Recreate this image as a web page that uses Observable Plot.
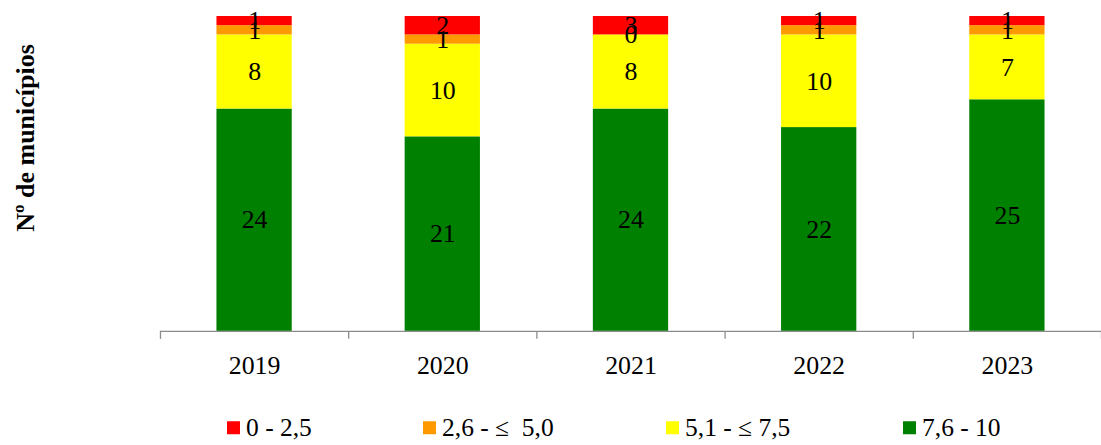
<!DOCTYPE html>
<html>
<head>
<meta charset="utf-8">
<script src="https://cdn.jsdelivr.net/npm/d3@7"></script>
<script src="https://cdn.jsdelivr.net/npm/@observablehq/plot@0.6"></script>
<style>
  html, body { margin: 0; padding: 0; background: #fff; overflow: hidden; }
  #wrap { position: relative; width: 1101px; height: 445px; overflow: hidden; font-family: "Liberation Serif", "Times New Roman", serif; }
  #chart { position: absolute; left: 0; top: 0; }
  #ytitle { position: absolute; left: 26px; top: 138px; transform: translate(-50%, -50%) rotate(-90deg); font-weight: bold; font-size: 26px; white-space: nowrap; color: #000; }
  .leg { position: absolute; top: 428px; transform: translateY(-50%); display: flex; align-items: center; font-size: 25.5px; white-space: pre; color: #000; line-height: 1; }
  .sw { width: 13px; height: 13px; margin-right: 6px; }
</style>
</head>
<body>
<div id="wrap">
  <div id="chart"></div>
  <div id="ytitle">Nº de municípios</div>
</div>
<script>
const years = [2019, 2020, 2021, 2022, 2023];
const series = ["7,6 - 10", "5,1 - ≤ 7,5", "2,6 - ≤  5,0", "0 - 2,5"]; // bottom to top
const green  = [24, 21, 24, 22, 25];
const yellow = [8, 10, 8, 10, 7];
const orange = [1, 1, 0, 1, 1];
const red    = [1, 2, 3, 1, 1];
const colors = ["#008000", "#FFFF00", "#FF9900", "#FF0000"];
const yMax = 34;
const halfBar = 0.2;

const values = [green, yellow, orange, red];
const rows = [];
years.forEach((yr, i) => {
  let acc = 0;
  values.forEach((arr, s) => {
    const v = arr[i];
    const y1 = acc, y2 = acc + v;
    acc = y2;
    rows.push({
      year: yr, series: series[s], value: v, y1, y2,
      x1: yr - halfBar, x2: yr + halfBar,
      ymid: (Math.min(y1, yMax) + Math.min(y2, yMax)) / 2
    });
  });
});

const chart = Plot.plot({
  width: 1108,
  height: 395,
  marginLeft: 161,
  marginRight: 0,
  marginTop: 16,
  marginBottom: 62,
  style: { fontFamily: "Liberation Serif, Times New Roman, serif", fontSize: "26px", background: "white", overflow: "visible" },
  x: { type: "linear", domain: [years[0] - 0.5, years[years.length - 1] + 0.5] },
  y: { domain: [0, yMax], axis: null },
  color: { domain: series, range: colors },
  marks: [
    Plot.rectY(rows, { x1: "x1", x2: "x2", y1: "y1", y2: "y2", fill: "series", clip: true }),
    Plot.ruleY([0], { stroke: "#8c8c8c", strokeWidth: 1.3 }),
    Plot.axisX(years.concat([years[years.length - 1] + 1]).map(d => d - 0.5), {
      tickSize: 8, tickFormat: () => "", stroke: "#8c8c8c", strokeWidth: 1.3
    }),
    Plot.axisX(years, {
      tickSize: 0, tickPadding: 24, tickFormat: d => String(d), fontSize: 26, fill: "#000"
    }),
    Plot.text(rows, {
      x: "year", y: "ymid", text: d => String(d.value), fontSize: 26, fill: "#000", lineAnchor: "middle"
    })
  ]
});
document.getElementById("chart").appendChild(chart);

// legend (left-to-right order as in reference: top series first)
const legPos = [903, 666, 423, 227];
series.forEach((s, i) => {
  const el = document.createElement("div");
  el.className = "leg";
  el.style.left = legPos[i] + "px";
  const sw = document.createElement("span");
  sw.className = "sw";
  sw.style.background = colors[i];
  const t = document.createElement("span");
  t.textContent = s;
  el.appendChild(sw);
  el.appendChild(t);
  document.getElementById("wrap").appendChild(el);
});
</script>
</body>
</html>
